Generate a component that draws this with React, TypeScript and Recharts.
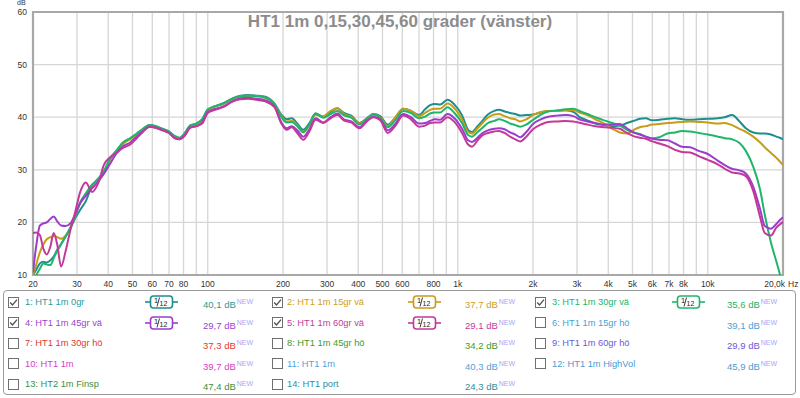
import React from 'react';
import { LineChart, Line, XAxis, YAxis, CartesianGrid, ReferenceArea } from 'recharts';

const FREQ = [
  20, 20.6, 21.3, 22, 22.7, 23.5, 24.2, 25, 25.9, 27, 28.2, 29.5, 31, 32.5, 34.5, 36.5, 38.5, 40.5, 43, 46,
  49, 52, 55, 58.5, 62, 66, 70, 74, 77, 81, 85, 90, 95, 100, 107, 115, 125, 135, 145, 157,
  170, 185, 197, 207, 217, 228, 241, 255, 270, 290, 310, 330, 350, 375, 405, 435, 460, 490, 525, 560,
  605, 650, 700, 740, 775, 810, 850, 910, 970, 1040, 1100, 1140, 1200, 1250, 1320, 1400, 1460, 1540, 1620, 1700,
  1780, 1880, 2000, 2150, 2300, 2500, 2700, 2900, 3100, 3300, 3550, 3850, 4150, 4450, 4750, 5050, 5350, 5650, 6000, 6400,
  6900, 7400, 7900, 8500, 9200, 10000, 11000, 11700, 12500, 13400, 14200, 15200, 16200, 16900, 17900, 18800, 19400, 20000,
];

const S_0GR = [
  10.0, 11.0, 12.2, 12.5, 12.4, 12.8, 13.5, 14.8, 15.9, 17.3, 18.8, 20.8, 22.5, 24.0, 27.0, 28.3, 29.5, 31.8, 33.5, 35.2,
  36.0, 36.8, 37.7, 38.5, 38.3, 37.7, 37.2, 36.3, 36.0, 37.0, 38.4, 38.8, 39.6, 41.4, 42.1, 42.6, 43.5, 44.1, 44.2, 44.1,
  43.9, 42.6, 40.5, 39.6, 39.8, 38.8, 37.6, 38.9, 40.7, 40.1, 41.0, 41.7, 40.8, 40.3, 38.9, 39.9, 40.6, 40.2, 38.6, 39.8,
  41.6, 41.2, 40.4, 41.5, 42.3, 42.5, 42.4, 43.3, 42.4, 40.4, 37.6, 37.2, 38.3, 39.2, 40.5, 41.2, 41.4, 41.1, 40.8, 40.6,
  40.3, 40.4, 40.5, 40.9, 41.2, 41.2, 41.3, 41.0, 39.9, 39.4, 38.8, 38.5, 38.3, 38.4, 38.9, 39.3, 39.7, 39.8, 39.4, 39.5,
  39.7, 39.8, 39.6, 39.5, 39.6, 39.7, 39.8, 40.0, 40.4, 39.2, 37.9, 37.1, 36.9, 36.9, 36.7, 36.3, 36.1, 35.8,
];

const S_15GR = [
  10.0, 12.0, 14.3, 15.8, 16.8, 17.2, 17.4, 17.2, 16.9, 17.5, 19.0, 21.3, 23.8, 25.3, 27.0, 28.2, 29.8, 31.8, 33.3, 35.0,
  35.8, 36.6, 37.6, 38.4, 38.2, 37.7, 37.2, 36.3, 36.0, 36.9, 38.3, 38.7, 39.5, 41.3, 42.0, 42.5, 43.4, 44.0, 44.1, 44.0,
  43.7, 42.5, 40.2, 39.2, 39.3, 38.5, 37.1, 38.5, 40.4, 40.2, 41.2, 41.7, 40.6, 40.1, 38.8, 39.8, 40.5, 40.0, 38.3, 39.8,
  41.6, 41.2, 40.2, 40.8, 41.4, 41.6, 41.6, 42.6, 41.7, 39.6, 37.2, 36.9, 37.9, 38.8, 39.9, 40.5, 40.6, 40.2, 39.8, 39.6,
  39.2, 39.6, 40.4, 41.0, 41.2, 41.2, 41.3, 41.3, 40.8, 40.4, 39.6, 38.8, 37.8, 37.1, 36.9, 37.6, 38.1, 38.3, 38.6, 38.7,
  38.9, 39.0, 39.1, 39.2, 39.1, 39.0, 38.8, 38.9, 38.5, 37.8, 37.2, 36.3, 35.2, 34.3, 33.2, 32.3, 31.6, 30.9,
];

const S_30GR = [
  9.0, 10.0, 11.2, 12.2, 12.0, 11.9, 13.2, 14.6, 15.8, 17.3, 19.0, 21.4, 24.0, 25.5, 27.2, 28.3, 29.8, 32.0, 33.6, 35.3,
  36.0, 36.9, 37.8, 38.5, 38.3, 37.8, 37.3, 36.4, 36.1, 37.0, 38.4, 38.8, 39.6, 41.5, 42.1, 42.6, 43.5, 44.0, 44.1, 44.0,
  43.7, 42.5, 40.0, 39.0, 39.1, 38.3, 37.2, 38.6, 40.7, 39.9, 40.6, 41.2, 40.4, 39.9, 38.6, 39.8, 40.5, 39.9, 38.1, 39.3,
  41.2, 40.8, 39.8, 40.1, 40.7, 40.9, 40.9, 41.9, 40.8, 38.9, 36.6, 36.3, 37.2, 37.9, 38.9, 39.3, 39.6, 39.3, 38.8, 38.5,
  38.2, 38.6, 39.5, 40.5, 41.1, 41.3, 41.5, 41.6, 41.1, 40.6, 40.0, 39.4, 38.9, 38.4, 37.6, 37.1, 36.8, 36.3, 36.0, 36.2,
  36.9, 37.1, 37.4, 37.3, 37.0, 36.7, 36.3, 36.0, 35.8, 35.1, 33.6, 30.6, 26.2, 21.5, 16.2, 12.6, 10.3, 7.5,
];

const S_45GR = [
  10.5, 15.5, 19.4, 19.8, 20.0, 20.7, 21.1, 20.2, 19.4, 19.3, 19.8, 21.5, 23.8, 25.0, 26.5, 27.8, 29.3, 31.0, 33.0, 34.5,
  35.2, 36.3, 37.3, 38.2, 38.0, 37.5, 37.0, 36.0, 35.8, 36.5, 38.0, 38.3, 39.0, 41.0, 41.6, 42.0, 43.0, 43.6, 43.7, 43.5,
  43.2, 42.0, 39.0, 37.9, 38.3, 37.5, 36.3, 37.7, 39.8, 39.0, 40.0, 40.7, 39.6, 39.2, 38.1, 39.4, 40.1, 39.6, 37.5, 38.6,
  40.6, 40.0, 38.8, 38.9, 39.3, 39.6, 39.5, 40.6, 39.8, 37.8, 35.6, 35.3, 36.1, 36.9, 37.5, 37.8, 37.9, 37.7, 37.1, 36.7,
  36.2, 37.2, 38.7, 39.6, 40.1, 40.3, 40.4, 40.2, 39.5, 39.2, 38.9, 38.6, 38.6, 38.7, 37.9, 37.1, 36.7, 36.3, 35.9, 35.7,
  35.6, 35.0, 34.4, 34.3, 33.6, 33.0, 31.7, 30.9, 30.2, 29.9, 29.3, 26.8, 22.5, 19.3, 18.8, 19.7, 20.4, 21.0,
];

const S_60GR = [
  18.0, 18.1, 17.6, 15.0, 13.9, 15.5, 18.0, 15.8, 11.6, 14.5, 18.5, 22.0, 26.0, 27.6, 25.8, 27.5, 31.0, 32.3, 33.2, 34.2,
  34.8, 36.0, 37.2, 38.2, 38.0, 37.5, 37.0, 36.0, 35.8, 36.6, 38.0, 38.3, 38.8, 40.8, 41.4, 41.9, 42.9, 43.4, 43.5, 43.3,
  43.0, 41.9, 38.8, 37.6, 38.1, 37.0, 35.7, 37.3, 39.5, 38.9, 39.8, 40.4, 39.4, 39.0, 37.9, 39.3, 40.0, 39.4, 37.0, 38.2,
  40.3, 39.6, 38.2, 38.4, 38.9, 39.0, 39.0, 40.0, 39.1, 37.0, 34.8, 34.4, 35.6, 36.5, 37.0, 37.3, 37.4, 37.0, 36.3, 35.8,
  35.4, 36.3, 37.7, 38.6, 39.1, 39.2, 39.3, 39.2, 38.9, 38.6, 38.3, 38.1, 38.0, 37.8, 37.0, 36.4, 36.1, 35.9, 35.4, 35.0,
  34.5, 33.8, 33.4, 33.3, 32.6, 31.9, 31.0, 30.2, 29.5, 29.3, 28.8, 26.0, 21.0, 18.0, 17.5, 19.0, 19.6, 20.1,
];

const X_TICKS = [20, 30, 40, 50, 60, 70, 80, 90, 100, 200, 300, 400, 500, 600, 700, 800, 900, 1000, 2000, 3000, 4000, 5000, 6000, 7000, 8000, 9000, 10000, 20000];
const X_TICK_LABELS: Record<number, string> = {
  20: '20', 30: '30', 40: '40', 50: '50', 60: '60', 70: '70', 80: '80', 100: '100', 200: '200', 300: '300', 400: '400',
  500: '500', 600: '600', 800: '800', 1000: '1k', 2000: '2k', 3000: '3k', 4000: '4k', 5000: '5k', 6000: '6k', 7000: '7k',
  8000: '8k', 10000: '10k', 20000: '20,0k',
};
const X_UNIT = 'Hz';
const Y_TICKS = [10, 20, 30, 40, 50, 60];
const Y_UNIT = 'dB';
const TITLE = 'HT1 1m 0,15,30,45,60 grader (vänster)';

const SERIES_KEYS = ['s0', 's15', 's30', 's45', 's60'];
const SERIES_DATA = [S_0GR, S_15GR, S_30GR, S_45GR, S_60GR];
const SERIES_COLORS = ['#1d8e8f', '#c69c18', '#1fb66b', '#9b3dcc', '#c3399a'];

const LEGEND_LABELS = [
  '1: HT1 1m 0gr', '2: HT1 1m 15gr vä', '3: HT1 1m 30gr vä',
  '4: HT1 1m 45gr vä', '5: HT1 1m 60gr vä', '6: HT1 1m 15gr hö',
  '7: HT1 1m 30gr hö', '8: HT1 1m 45gr hö', '9: HT1 1m 60gr hö',
  '10: HT1 1m', '11: HT1 1m', '12: HT1 1m HighVol',
  '13: HT2 1m Finsp', '14: HT1 port',
];
const LEGEND_VALUES = ['40,1', '37,7', '35,6', '29,7', '29,1', '39,1', '37,3', '34,2', '29,9', '39,7', '40,3', '45,9', '47,4', '24,3'];
const LEGEND_CHECKED = [true, true, true, true, true, false, false, false, false, false, false, false, false, false];
const LEGEND_SMOOTHING = ['1/12', '1/12', '1/12', '1/12', '1/12', '', '', '', '', '', '', '', '', ''];
const LEGEND_COLORS = [
  '#2a9a9c', '#d19d16', '#22b466', '#9645cc', '#c33c94', '#4b9fd4',
  '#e0392b', '#3c9a2c', '#6a5ad8', '#d63cc8', '#4fa3dc', '#4b9bd2',
  '#3d8f3a', '#2b8f9f',
];
const NEW_TAG = 'NEW';

const data = FREQ.map((f, i) => {
  const row: Record<string, number> = { f };
  SERIES_KEYS.forEach((k, j) => {
    row[k] = SERIES_DATA[j][i];
  });
  return row;
});

const FONT = '"Liberation Sans", Arial, sans-serif';

const XTick = (props: any) => {
  const { x, y, payload } = props;
  const v = payload.value;
  const label = X_TICK_LABELS[v];
  if (!label) return <g />;
  if (v === 20000) {
    return (
      <g>
        <text x={x + 2} y={y + 12} textAnchor="end" fontSize={8.5} fill="#333">{label}</text>
        <text x={x + 5} y={y + 12} textAnchor="start" fontSize={8.5} fill="#333">{X_UNIT}</text>
      </g>
    );
  }
  return (
    <text x={x} y={y + 12} textAnchor="middle" fontSize={8.5} fill="#333">{label}</text>
  );
};

const SmoothIcon = ({ color, text }: { color: string; text: string }) => {
  const [a, b] = text.split('/');
  return (
    <svg width={33} height={14} style={{ display: 'block' }}>
      <line x1={0} y1={7} x2={6} y2={7} stroke={color} strokeWidth={1.6} />
      <line x1={27} y1={7} x2={33} y2={7} stroke={color} strokeWidth={1.6} />
      <rect x={5.5} y={1} width={22} height={12} rx={3} fill="#fff" stroke={color} strokeWidth={1.6} />
      <text x={9} y={8} fontSize={7.5} fill="#222" fontFamily={FONT}>{a}</text>
      <line x1={12} y1={11.5} x2={14.5} y2={2.5} stroke="#222" strokeWidth={0.9} />
      <text x={14.5} y={11.2} fontSize={7} fill="#222" fontFamily={FONT}>{b}</text>
    </svg>
  );
};

const CheckBox = ({ checked }: { checked: boolean }) => (
  <svg width={11} height={11} style={{ display: 'block' }}>
    <rect x={0.5} y={0.5} width={10} height={10} fill="#fff" stroke="#707070" strokeWidth={1} />
    {checked && <path d="M2.2 5.5 L4.5 8 L9 2.6" fill="none" stroke="#505050" strokeWidth={1.3} />}
  </svg>
);

const COL_CHECK_X = [8, 272, 535];
const COL_LABEL_X = [25, 287, 552];
const COL_ICON_X = [145, 408, 672];
const COL_VALUE_X = [203, 465, 727];
const ROW_Y0 = 302.3;
const ROW_DY = 20.5;

export default function App() {
  return (
    <div style={{ position: 'absolute', left: 0, top: 0, width: 800, height: 398, background: '#fff', fontFamily: FONT, overflow: 'hidden' }}>
      <LineChart
        width={800}
        height={290}
        data={data}
        margin={{ top: 12, right: 17, bottom: 0, left: 8 }}
        style={{ fontFamily: FONT }}
      >
        <CartesianGrid stroke="#d6d6d6" strokeWidth={1.3} />
        <XAxis
          dataKey="f"
          type="number"
          scale="log"
          domain={[20, 20000]}
          ticks={X_TICKS}
          interval={0}
          allowDataOverflow
          tick={<XTick />}
          tickLine={false}
          axisLine={false}
          tickSize={0}
          tickMargin={0}
          height={15}
        />
        <YAxis
          type="number"
          domain={[10, 60]}
          ticks={Y_TICKS}
          interval={0}
          allowDataOverflow
          tick={{ fontSize: 8.5, fill: '#333' }}
          tickLine={false}
          axisLine={false}
          tickSize={0}
          tickMargin={6}
          width={25}
        />
        {SERIES_KEYS.map((k, j) => (
          <Line
            key={k}
            type="monotone"
            dataKey={k}
            stroke={SERIES_COLORS[j]}
            strokeWidth={2}
            dot={false}
            activeDot={false}
            isAnimationActive={false}
          />
        ))}
        <ReferenceArea x1={20} x2={20000} y1={10} y2={60} fill="none" fillOpacity={0} stroke="#a8a8a8" strokeWidth={2.2} />
      </LineChart>

      <div style={{ position: 'absolute', left: 0, top: 12, width: 800, textAlign: 'center', fontSize: 17, fontWeight: 'bold', color: '#8c8c8c', lineHeight: '19px' }}>
        {TITLE}
      </div>
      <div style={{ position: 'absolute', left: 17, top: -1, fontSize: 7, color: '#333', lineHeight: '8px' }}>{Y_UNIT}</div>

      <div style={{ position: 'absolute', left: 3, top: 290, width: 793, height: 105, border: '1px solid #9a9a9a', borderRadius: 4, boxSizing: 'border-box' }} />
      {LEGEND_LABELS.map((label, i) => {
        const col = i % 3;
        const row = Math.floor(i / 3);
        const cy = ROW_Y0 + row * ROW_DY;
        const color = LEGEND_COLORS[i];
        return (
          <React.Fragment key={i}>
            <div style={{ position: 'absolute', left: COL_CHECK_X[col], top: cy - 5.5 }}>
              <CheckBox checked={LEGEND_CHECKED[i]} />
            </div>
            <div style={{ position: 'absolute', left: COL_LABEL_X[col], top: cy - 6, fontSize: 9.3, lineHeight: '12px', color, whiteSpace: 'nowrap' }}>
              {label}
            </div>
            {LEGEND_SMOOTHING[i] && (
              <div style={{ position: 'absolute', left: COL_ICON_X[col], top: cy - 7 }}>
                <SmoothIcon color={SERIES_COLORS[i]} text={LEGEND_SMOOTHING[i]} />
              </div>
            )}
            <div style={{ position: 'absolute', left: COL_VALUE_X[col], top: cy - 6, fontSize: 9.5, lineHeight: '12px', color, whiteSpace: 'nowrap' }}>
              {LEGEND_VALUES[i]} dB<span style={{ fontSize: 7, verticalAlign: '4px', color: '#a3a8f5', marginLeft: 1 }}>{NEW_TAG}</span>
            </div>
          </React.Fragment>
        );
      })}
    </div>
  );
}
